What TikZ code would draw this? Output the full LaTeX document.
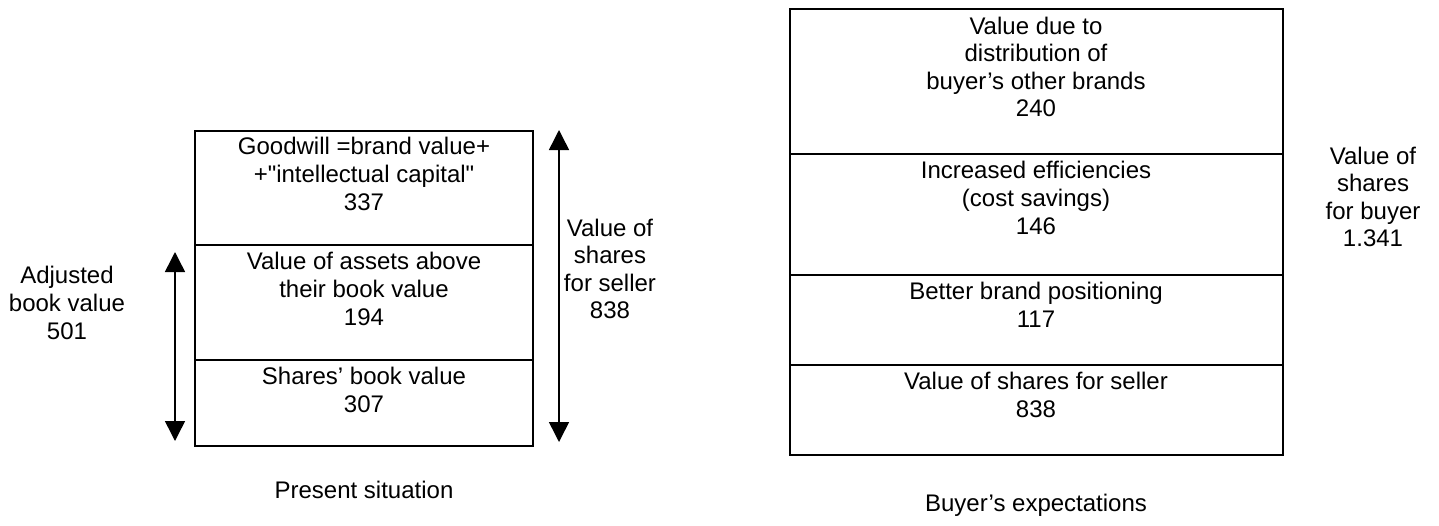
\documentclass[tikz,border=0pt]{standalone}
\usepackage{fontspec}
\setmainfont{Liberation Sans}[Ligatures=TeXOff]
\usetikzlibrary{arrows.meta}
\begin{document}
\begin{tikzpicture}[x=1pt,y=-1pt,
  txt/.style={align=center,inner sep=0pt,font=\fontsize{24}{27.6}\selectfont},
  boxline/.style={line width=2.2pt},
  dbl/.style={line width=1.5pt,{Triangle[width=20pt,length=20pt]}-{Triangle[width=20pt,length=20pt]}}]
\useasboundingbox (0,0) rectangle (1439,525);
% left box
\draw[boxline] (195,131) rectangle (533,446);
\draw[boxline] (195,245) -- (533,245);
\draw[boxline] (195,360) -- (533,360);
\node[txt] (gw) at (364,174) {Goodwill =brand value+\\+"intellectual capital"\\337};
\node[txt] (as) at (364,289) {Value of assets above\\their book value\\194};
\node[txt] (bv) at (364,390) {Shares’ book value\\307};
% arrows
\coordinate (la1) at (175,252);
\coordinate (la2) at (175,441);
\draw[dbl] (la1) -- (la2);
\coordinate (ra1) at (559,130);
\coordinate (ra2) at (559,442);
\draw[dbl] (ra1) -- (ra2);
\node[txt] (adj) at (67,303) {Adjusted\\book value\\501};
\node[txt] (vs) at (610,269) {Value of\\shares\\for seller\\838};
\node[txt] (ps) at (364,490) {Present situation};
% right box
\draw[boxline] (790,9) rectangle (1283,455);
\draw[boxline] (790,154) -- (1283,154);
\draw[boxline] (790,275) -- (1283,275);
\draw[boxline] (790,365) -- (1283,365);
\node[txt] (vd) at (1036,67) {Value due to\\distribution of\\buyer’s other brands\\240};
\node[txt] (ie) at (1036,198) {Increased efficiencies\\(cost savings)\\146};
\node[txt] (bp) at (1036,305) {Better brand positioning\\117};
\node[txt] (vss) at (1036,395) {Value of shares for seller\\838};
\node[txt] (vb) at (1373,197) {Value of\\shares\\for buyer\\1.341};
\node[txt] (be) at (1036,505) {Buyer’s expectations};
\end{tikzpicture}
\end{document}
